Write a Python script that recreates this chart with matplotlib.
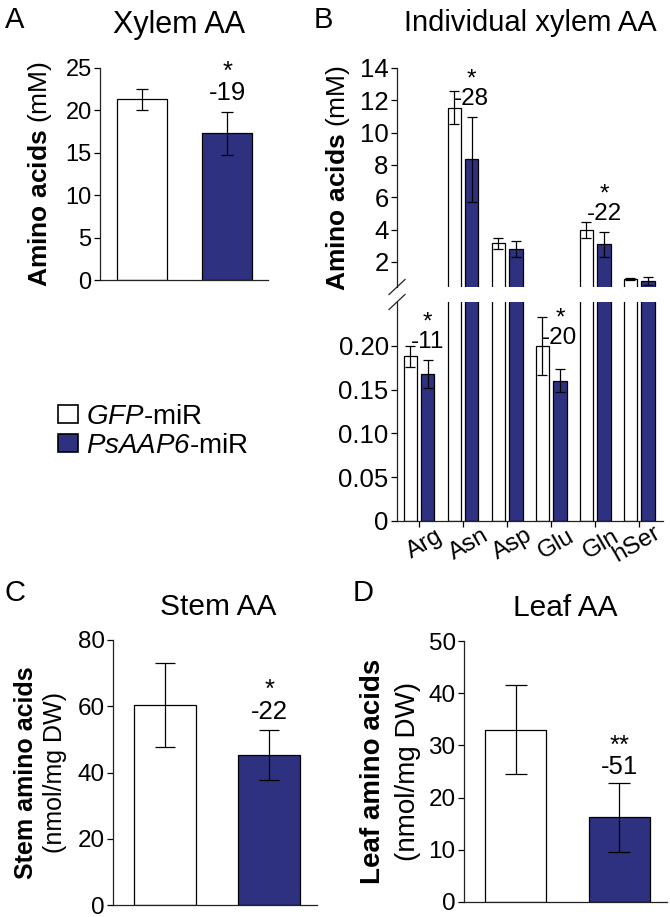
import numpy as np
import matplotlib.pyplot as plt
from matplotlib.patches import Patch
from matplotlib.transforms import ScaledTranslation

plt.rcParams['font.family'] = ['Liberation Sans', 'DejaVu Sans']
plt.rcParams['mathtext.fontset'] = 'custom'
plt.rcParams['mathtext.rm'] = 'Liberation Sans'
plt.rcParams['mathtext.bf'] = 'Liberation Sans:bold'
plt.rcParams['mathtext.it'] = 'Liberation Sans:italic'
plt.rcParams['mathtext.sf'] = 'Liberation Sans:italic'

# data
groups = ["GFP-miR", "PsAAP6-miR"]
xylem_mean = [21.3, 17.3]
xylem_err = [1.2, 2.55]

aa_names = ["Arg", "Asn", "Asp", "Glu", "Gln", "hSer"]
aa_gfp = [0.188, 11.55, 3.15, 0.200, 3.98, 0.95]
aa_gfp_err = [0.012, 1.0, 0.35, 0.033, 0.5, 0.05]
aa_miR = [0.168, 8.35, 2.78, 0.160, 3.10, 0.80]
aa_miR_err = [0.016, 2.63, 0.5, 0.013, 0.77, 0.25]
aa_stars = ["*", "*", "", "*", "*", ""]
aa_change = ["-11", "-28", "", "-20", "-22", ""]

stem_mean = [60.4, 45.3]
stem_err = [12.8, 7.6]
leaf_mean = [33.0, 16.2]
leaf_err = [8.5, 6.6]

blue = "#2d3180"
W, H = 670, 917
fig = plt.figure(figsize=(W / 100, H / 100), dpi=100)


def px_axes(left, top, right, bottom):
    return fig.add_axes([left / W, 1 - bottom / H, (right - left) / W, (bottom - top) / H])


def style(ax, fs):
    for s in ["top", "right"]:
        ax.spines[s].set_visible(False)
    for s in ["left", "bottom"]:
        ax.spines[s].set_linewidth(0.9)
        ax.spines[s].set_color("#222222")
    ax.tick_params(axis="y", direction="out", length=4, width=0.9, labelsize=fs, pad=2)
    ax.tick_params(axis="x", bottom=False, labelbottom=False)


def two_bars(ax, means, errs, cap):
    x = np.arange(len(means))
    ax.bar(x, means, width=0.59, color=["white", blue], edgecolor="black", linewidth=0.9)
    ax.errorbar(x, means, yerr=errs, fmt="none", ecolor="black", elinewidth=0.9,
                capsize=cap, capthick=0.9)
    return x


def note(ax, x, y, star, num, fs, off=4.5):
    # significance star above the percent change, sitting on the error bar top
    ax.annotate(star + "\n" + num, xy=(x, y), xytext=(0, off), textcoords="offset points",
                ha="center", va="bottom", multialignment="center", linespacing=0.86,
                fontsize=fs, annotation_clip=False)


def ftext(x, y, s, fs, **kw):
    fig.text(x / W, 1 - y / H, s, fontsize=fs, ha="center", va="center", **kw)


# ---- A: xylem AA
axA = px_axes(100, 68, 268, 280)
style(axA, 17)
x = two_bars(axA, xylem_mean, xylem_err, 4.5)
axA.set_xlim(-0.5, 1.48)
axA.set_ylim(0, 25)
axA.set_yticks(np.arange(0, 26, 5))
axA.set_ylabel(r"$\mathbf{Amino\ acids}$ (mM)", fontsize=19, va="center")
axA.yaxis.set_label_coords(-60 / 168, 0.5)
note(axA, x[1], xylem_mean[1] + xylem_err[1], "*", "-19", 18.5)

# ---- B: individual xylem AA (broken axis)
xb = np.arange(len(aa_names))
axBu = px_axes(397, 68, 663, 287)
axBl = px_axes(397, 302, 663, 521)
for ax in (axBu, axBl):
    style(ax, 18.5)
    ax.bar(xb - 0.2, aa_gfp, width=0.3, color="white", edgecolor="black", linewidth=0.9)
    ax.bar(xb + 0.2, aa_miR, width=0.3, color=blue, edgecolor="black", linewidth=0.9)
    ax.errorbar(xb - 0.2, aa_gfp, yerr=aa_gfp_err, fmt="none", ecolor="black",
                elinewidth=0.9, capsize=3.5, capthick=0.9)
    ax.errorbar(xb + 0.2, aa_miR, yerr=aa_miR_err, fmt="none", ecolor="black",
                elinewidth=0.9, capsize=3.5, capthick=0.9)
    ax.set_xlim(-0.5, 5.54)
axBu.spines["bottom"].set_visible(False)
axBu.set_ylim(0.45, 14)
axBu.set_yticks(np.arange(2, 15, 2))
axBl.set_ylim(0, 0.25)
axBl.set_yticks([0, 0.05, 0.10, 0.15, 0.20])
axBl.set_yticklabels(["0", "0.05", "0.10", "0.15", "0.20"])
axBl.tick_params(axis="x", bottom=True, labelbottom=True, direction="out", length=4,
                 width=0.9, labelsize=17.5, pad=6)
axBl.set_xticks(xb)
axBl.set_xticklabels(aa_names, rotation=30, ha="center", va="top", rotation_mode="anchor")
# last label sits right at the figure edge, nudge it in a little
last = axBl.get_xticklabels()[-1]
last.set_transform(last.get_transform() + ScaledTranslation(-8 / 100, 0, fig.dpi_scale_trans))
axBu.set_ylabel(r"$\mathbf{Amino\ acids}$ (mM)", fontsize=19, va="center")
axBu.yaxis.set_label_coords(-59 / 266, 0.5)

# break marks
kw = dict(color="#222222", lw=0.9, clip_on=False)
dx, dy = 8 / 266, 7.5 / 219
axBu.plot([-dx, dx], [-dy, dy], transform=axBu.transAxes, **kw)
axBl.plot([-dx, dx], [1 - dy, 1 + dy], transform=axBl.transAxes, **kw)

for i in range(len(aa_names)):
    if not aa_change[i]:
        continue
    top = aa_miR[i] + aa_miR_err[i]
    ax = axBu if top > 0.5 else axBl
    off = 14.5 if aa_names[i] == "Glu" else 5
    note(ax, xb[i] + 0.2, top, aa_stars[i], aa_change[i], 17.5, off=off)

# ---- C: stem AA
axC = px_axes(113, 640, 317, 905)
style(axC, 17.5)
x = two_bars(axC, stem_mean, stem_err, 7)
axC.set_xlim(-0.5, 1.46)
axC.set_ylim(0, 80)
axC.set_yticks(np.arange(0, 81, 20))
axC.text(-87 / 204, 0.5, "Stem amino acids", transform=axC.transAxes, rotation=90,
         ha="center", va="center", fontsize=18, fontweight="bold")
axC.text(-58 / 204, 0.5, "(nmol/mg DW)", transform=axC.transAxes, rotation=90,
         ha="center", va="center", fontsize=18)
note(axC, x[1], stem_mean[1] + stem_err[1], "*", "-22", 18.5)

# ---- D: leaf AA
axD = px_axes(464, 641, 667, 902)
style(axD, 17.5)
x = two_bars(axD, leaf_mean, leaf_err, 8)
axD.set_xlim(-0.5, 1.46)
axD.set_ylim(0, 50)
axD.set_yticks(np.arange(0, 51, 10))
axD.text(-91 / 203, 0.5, "Leaf amino acids", transform=axD.transAxes, rotation=90,
         ha="center", va="center", fontsize=20, fontweight="bold")
axD.text(-56 / 203, 0.5, "(nmol/mg DW)", transform=axD.transAxes, rotation=90,
         ha="center", va="center", fontsize=20)
note(axD, x[1], leaf_mean[1] + leaf_err[1], "**", "-51", 18.5, off=3)

# titles and panel letters
ftext(179, 25, "Xylem AA", 22)
ftext(530, 23, "Individual xylem AA", 21)
ftext(218, 607, "Stem AA", 21.5)
ftext(565, 608, "Leaf AA", 21.5)
ftext(15, 20, "A", 21)
ftext(323, 20, "B", 21)
ftext(15, 593, "C", 21)
ftext(363, 593, "D", 21)

# legend
handles = [Patch(facecolor="white", edgecolor="black", linewidth=1.2),
           Patch(facecolor=blue, edgecolor="black", linewidth=1.2)]
labels = [r"$\mathsf{GFP}$-miR", r"$\mathsf{PsAAP6}$-miR"]
fig.legend(handles, labels, loc="upper left", bbox_to_anchor=(58 / W, 1 - 404 / H),
           frameon=False, fontsize=20, handlelength=0.72, handleheight=0.62,
           handletextpad=0.3, labelspacing=0.1, borderpad=0, borderaxespad=0)

fig.savefig("out.png", dpi=100)
